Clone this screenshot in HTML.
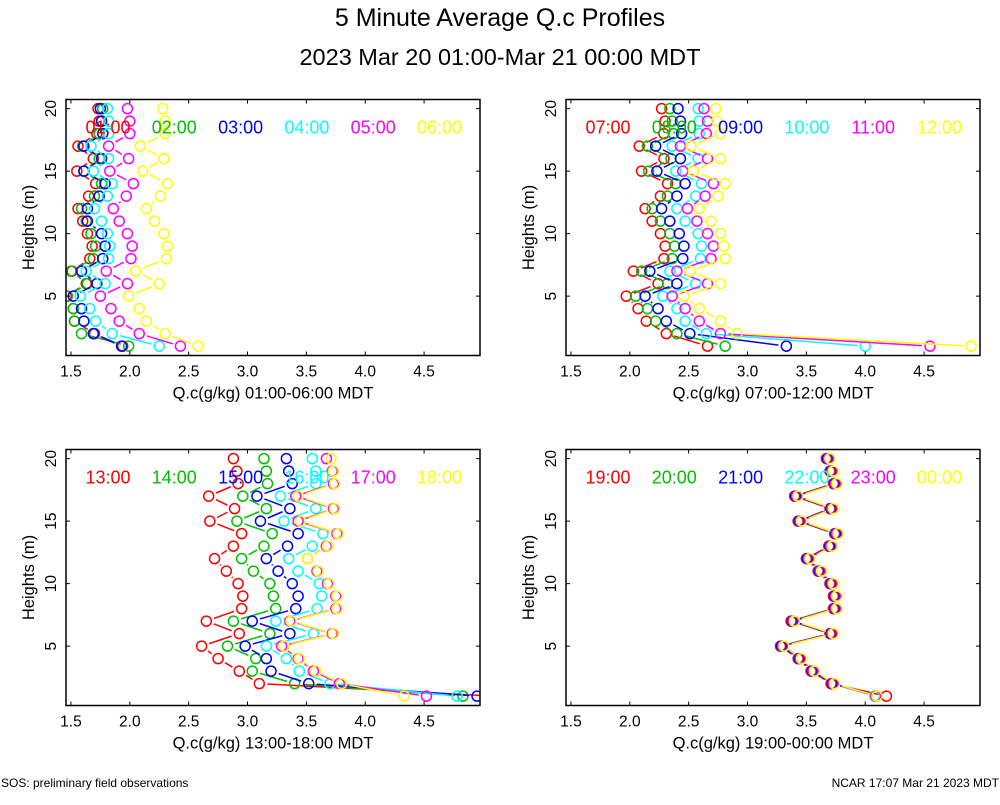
<!DOCTYPE html>
<html><head><meta charset="utf-8"><style>
body{margin:0;background:#fff;font-family:"Liberation Sans",sans-serif}
svg text{font-family:"Liberation Sans",sans-serif}
</style></head><body>
<svg id="c" width="1000" height="800" xmlns="http://www.w3.org/2000/svg">
<text x="500" y="26" font-size="25" text-anchor="middle">5 Minute Average Q.c Profiles</text>
<text x="500" y="65" font-size="23.5" text-anchor="middle">2023 Mar 20 01:00-Mar 21 00:00 MDT</text>
<text x="1" y="787" font-size="12">SOS: preliminary field observations</text>
<text x="999" y="787" font-size="12" text-anchor="end">NCAR 17:07 Mar 21 2023 MDT</text>
</svg>
<script>
const heights=[20,19,18,17,16,15,14,13,12,11,10,9,8,7,6,5,4,3,2,1];
const xTicks=[1.5,2.0,2.5,3.0,3.5,4.0,4.5];
const yTicks=[5,10,15,20];
const colors=["#ff0000","#00c000","#0000ff","#00ffff","#ff00ff","#ffff00"];
const p1Labels=["01:00","02:00","03:00","04:00","05:00","06:00"];
const p2Labels=["07:00","08:00","09:00","10:00","11:00","12:00"];
const p3Labels=["13:00","14:00","15:00","16:00","17:00","18:00"];
const p4Labels=["19:00","20:00","21:00","22:00","23:00","00:00"];
const p1Red=[1.73,1.74,1.72,1.56,1.69,1.55,1.71,1.65,1.56,1.60,1.64,1.68,1.66,1.51,1.63,1.46,1.52,1.53,1.70,1.94];
const p1Green=[1.77,1.76,1.74,1.60,1.74,1.61,1.76,1.70,1.59,1.63,1.67,1.71,1.69,1.50,1.64,1.47,1.52,1.53,1.59,1.99];
const p1Blue=[1.75,1.76,1.77,1.61,1.76,1.61,1.79,1.74,1.64,1.64,1.76,1.79,1.77,1.59,1.72,1.52,1.59,1.61,1.69,1.93];
const p1Cyan=[1.81,1.82,1.82,1.67,1.82,1.69,1.85,1.81,1.70,1.76,1.81,1.83,1.82,1.63,1.79,1.58,1.66,1.71,1.85,2.25];
const p1Magenta=[1.98,2.00,2.00,1.82,1.99,1.83,2.03,1.97,1.86,1.91,1.98,2.02,2.01,1.80,1.98,1.75,1.84,1.91,2.08,2.43];
const p1Yellow=[2.28,2.30,2.30,2.09,2.29,2.11,2.32,2.26,2.14,2.21,2.29,2.32,2.31,2.05,2.25,1.99,2.08,2.14,2.30,2.58];
const p2Red=[2.27,2.30,2.29,2.08,2.29,2.10,2.32,2.26,2.13,2.19,2.26,2.30,2.29,2.03,2.24,1.97,2.07,2.14,2.31,2.66];
const p2Green=[2.34,2.36,2.37,2.15,2.35,2.16,2.39,2.32,2.19,2.26,2.34,2.38,2.36,2.10,2.32,2.05,2.15,2.22,2.40,2.81];
const p2Blue=[2.41,2.43,2.44,2.22,2.43,2.23,2.47,2.40,2.27,2.34,2.42,2.46,2.45,2.17,2.40,2.13,2.24,2.31,2.51,3.33];
const p2Cyan=[2.58,2.59,2.59,2.36,2.58,2.39,2.61,2.56,2.40,2.47,2.58,2.61,2.60,2.34,2.56,2.28,2.40,2.47,2.65,4.00];
const p2Magenta=[2.63,2.66,2.65,2.43,2.66,2.45,2.71,2.64,2.49,2.57,2.66,2.71,2.69,2.40,2.66,2.36,2.47,2.59,2.77,4.55];
const p2Yellow=[2.73,2.74,2.77,2.52,2.77,2.54,2.81,2.75,2.59,2.69,2.77,2.80,2.81,2.51,2.77,2.46,2.59,2.77,2.91,4.90];
const p3Red=[2.88,2.91,2.92,2.67,2.89,2.68,2.95,2.88,2.72,2.82,2.92,2.96,2.95,2.65,2.93,2.61,2.75,2.93,3.10,5.10];
const p3Green=[3.14,3.16,3.17,2.96,3.16,2.91,3.21,3.14,2.95,3.05,3.19,3.22,3.24,2.88,3.19,2.83,3.07,3.04,3.40,4.83];
const p3Blue=[3.33,3.35,3.38,3.08,3.36,3.11,3.43,3.34,3.16,3.26,3.38,3.43,3.41,3.04,3.36,2.98,3.16,3.20,3.52,4.95];
const p3Cyan=[3.55,3.58,3.58,3.28,3.58,3.31,3.64,3.55,3.35,3.43,3.61,3.63,3.59,3.24,3.56,3.16,3.33,3.44,3.70,4.78];
const p3Magenta=[3.67,3.72,3.73,3.41,3.73,3.43,3.76,3.67,3.51,3.59,3.68,3.75,3.75,3.36,3.72,3.29,3.43,3.56,3.78,4.52];
const p3Yellow=[3.71,3.73,3.74,3.43,3.74,3.45,3.77,3.68,3.51,3.60,3.69,3.76,3.76,3.37,3.73,3.31,3.44,3.58,3.80,4.33];
const p4Red=[3.67,3.70,3.73,3.40,3.70,3.43,3.74,3.69,3.50,3.60,3.70,3.73,3.73,3.37,3.70,3.28,3.43,3.54,3.71,4.18];
const p4Green=[3.68,3.71,3.74,3.41,3.71,3.44,3.75,3.70,3.51,3.61,3.71,3.74,3.74,3.38,3.71,3.29,3.44,3.55,3.72,4.10];
const p4Blue=[3.68,3.71,3.74,3.41,3.71,3.44,3.75,3.70,3.51,3.61,3.71,3.74,3.74,3.38,3.71,3.29,3.44,3.55,3.72,4.09];
const p4Cyan=[3.69,3.72,3.75,3.42,3.72,3.45,3.76,3.71,3.52,3.62,3.72,3.75,3.75,3.39,3.72,3.30,3.45,3.56,3.73,4.08];
const p4Magenta=[3.69,3.72,3.75,3.42,3.72,3.45,3.76,3.71,3.52,3.62,3.72,3.75,3.75,3.39,3.72,3.30,3.45,3.56,3.73,4.09];
const p4Yellow=[3.70,3.73,3.76,3.43,3.73,3.46,3.77,3.72,3.53,3.63,3.73,3.76,3.76,3.40,3.73,3.31,3.46,3.57,3.74,4.10];

const NS="http://www.w3.org/2000/svg";
const svg=document.getElementById('c');
function mk(tag,attrs,parent){const e=document.createElementNS(NS,tag);for(const k in attrs)e.setAttribute(k,attrs[k]);(parent||svg).appendChild(e);return e;}
const X0=1.458,X1=4.975,Y0=0.25,Y1=20.73,W=414,H=256;
const panels=[
 {ox:66,oy:99.5,labels:p1Labels,series:[p1Red,p1Green,p1Blue,p1Cyan,p1Magenta,p1Yellow],title:"Q.c(g/kg) 01:00-06:00 MDT",name:"panel-1"},
 {ox:566,oy:99.5,labels:p2Labels,series:[p2Red,p2Green,p2Blue,p2Cyan,p2Magenta,p2Yellow],title:"Q.c(g/kg) 07:00-12:00 MDT",name:"panel-2"},
 {ox:66,oy:449.5,labels:p3Labels,series:[p3Red,p3Green,p3Blue,p3Cyan,p3Magenta,p3Yellow],title:"Q.c(g/kg) 13:00-18:00 MDT",name:"panel-3"},
 {ox:566,oy:449.5,labels:p4Labels,series:[p4Red,p4Green,p4Blue,p4Cyan,p4Magenta,p4Yellow],title:"Q.c(g/kg) 19:00-00:00 MDT",name:"panel-4"}
];
panels.forEach((p,pi)=>{
  const g=mk('g',{});
  
  
  const sx=v=>p.ox+(v-X0)/(X1-X0)*W;
  const sy=v=>p.oy+H-(v-Y0)/(Y1-Y0)*H;
  const cid='clip'+pi;
  const cp=mk('clipPath',{id:cid},g);mk('rect',{x:p.ox,y:p.oy,width:W,height:H},cp);
  const data=mk('g',{'clip-path':'url(#'+cid+')'},g);
  p.series.forEach((vals,si)=>{
    const sg=mk('g',{},data);
    
    
    for(let i=0;i<vals.length-1;i++){
      const x1=sx(vals[i]),y1=sy(heights[i]),x2=sx(vals[i+1]),y2=sy(heights[i+1]);
      const dx=x2-x1,dy=y2-y1,L=Math.hypot(dx,dy),r=8;
      if(L>2*r){const ux=dx/L,uy=dy/L;
        const ln=mk('line',{x1:x1+ux*r,y1:y1+uy*r,x2:x2-ux*r,y2:y2-uy*r,stroke:colors[si],'stroke-width':1.5},sg);
        
        }
    }
    vals.forEach((v,i)=>{
      const c=mk('circle',{cx:sx(v),cy:sy(heights[i]),r:5,fill:'none',stroke:colors[si],'stroke-width':1.5},sg);
      
      
    });
  });
  const fr=mk('rect',{x:p.ox,y:p.oy,width:W,height:H,fill:'none',stroke:'#000','stroke-width':1.5},g);
  
  
  xTicks.forEach(t=>{
    const x=sx(t);
    mk('line',{x1:x,y1:p.oy+H,x2:x,y2:p.oy+H-4,stroke:'#000'},g);
    mk('line',{x1:x,y1:p.oy,x2:x,y2:p.oy+4,stroke:'#000'},g);
    const tl=mk('text',{x:x,y:p.oy+H+21,'font-size':15.5,'text-anchor':'middle'},g);
    tl.textContent=t.toFixed(1);
    
    
  });
  yTicks.forEach(t=>{
    const y=sy(t);
    mk('line',{x1:p.ox,y1:y,x2:p.ox+4,y2:y,stroke:'#000'},g);
    mk('line',{x1:p.ox+W,y1:y,x2:p.ox+W-4,y2:y,stroke:'#000'},g);
    const tl=mk('text',{x:p.ox-10,y:y,'font-size':15.5,'text-anchor':'middle',transform:`rotate(-90 ${p.ox-10} ${y})`},g);
    tl.textContent=t;
    
    
  });
  const yt=mk('text',{x:p.ox-32,y:p.oy+H/2,'font-size':16.5,'text-anchor':'middle',transform:`rotate(-90 ${p.ox-32} ${p.oy+H/2})`},g);
  yt.textContent='Heights (m)';
  
  
  const xt=mk('text',{x:p.ox+W/2,y:p.oy+H+43,'font-size':16.5,'text-anchor':'middle'},g);
  xt.textContent=p.title;
  
  
  p.labels.forEach((lb,si)=>{
    const t=mk('text',{x:p.ox+42+si*66.3,y:p.oy+34,'font-size':18,'text-anchor':'middle',fill:colors[si]},g);
    t.textContent=lb;
    
    
  });
});
</script>
</body></html>
